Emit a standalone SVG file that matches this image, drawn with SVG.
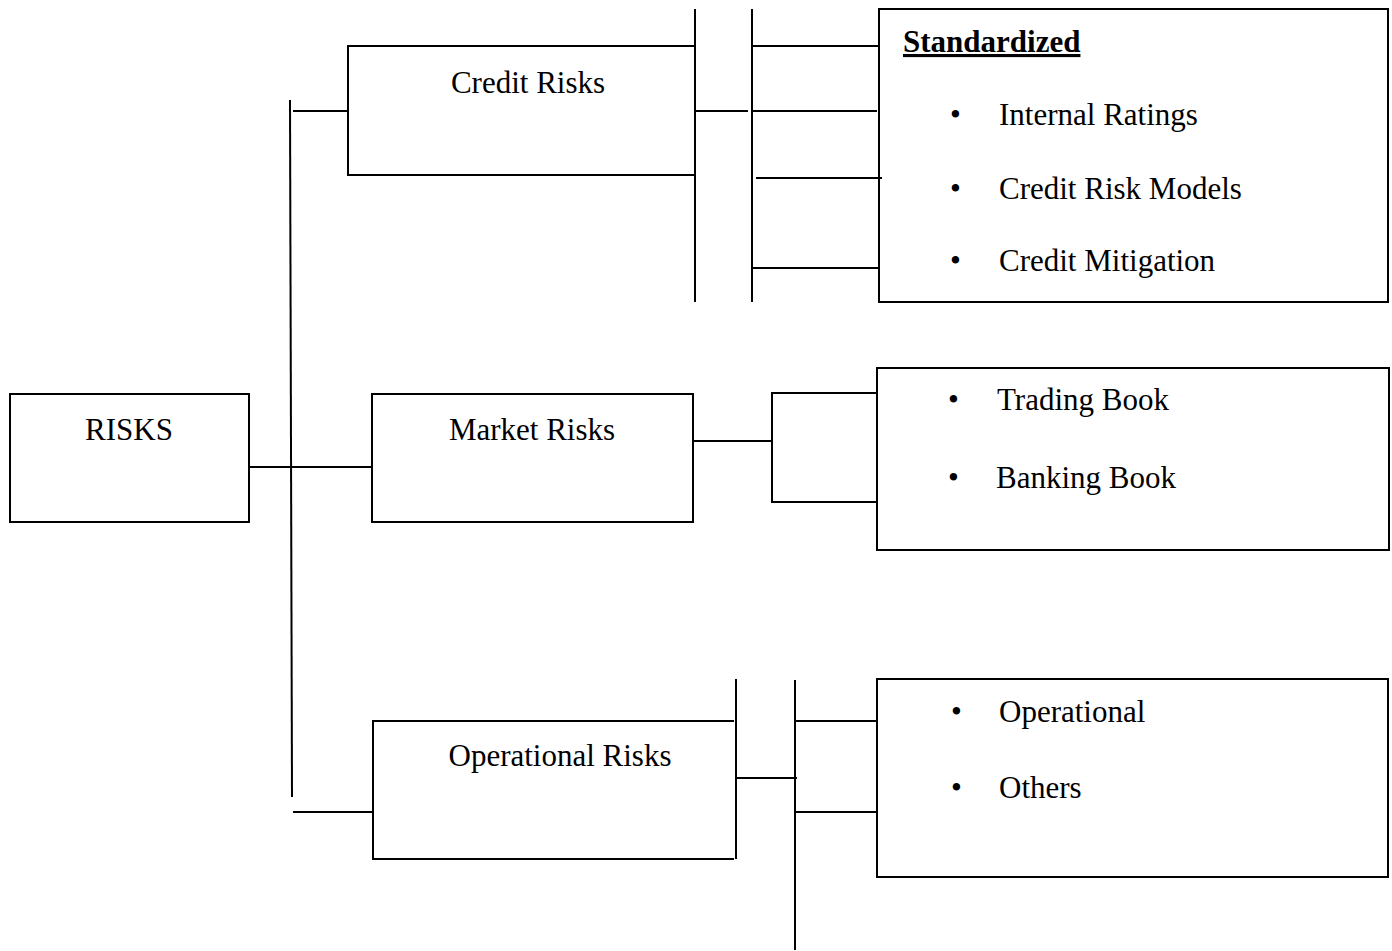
<svg xmlns="http://www.w3.org/2000/svg" width="1392" height="951" viewBox="0 0 1392 951">
<style>
.ln{stroke:#000;stroke-width:2;fill:none}
.box{stroke:#000;stroke-width:2;fill:none}
.t{font-family:"Liberation Serif","Times New Roman",serif;font-size:31px;fill:#000}
.c{text-anchor:middle}
.b{font-weight:bold;text-decoration:underline}
</style>
<rect width="1392" height="951" fill="#fff"/>
<g id="connectors">
<line class="ln" x1="290" y1="100" x2="292" y2="797"/>
<line class="ln" x1="293" y1="111" x2="348" y2="111"/>
<line class="ln" x1="249" y1="467" x2="372" y2="467"/>
<line class="ln" x1="293" y1="812" x2="373" y2="812"/>
<line class="ln" x1="695" y1="9" x2="695" y2="302"/>
<line class="ln" x1="752" y1="9" x2="752" y2="302"/>
<line class="ln" x1="695" y1="111" x2="748" y2="111"/>
<line class="ln" x1="752" y1="46" x2="879" y2="46"/>
<line class="ln" x1="752" y1="111" x2="877" y2="111"/>
<line class="ln" x1="756" y1="178" x2="882" y2="178"/>
<line class="ln" x1="752" y1="268" x2="879" y2="268"/>
<line class="ln" x1="694" y1="441" x2="772" y2="441"/>
<polyline class="ln" points="877,393 772,393 772,502 877,502"/>
<line class="ln" x1="736" y1="679" x2="736" y2="859"/>
<line class="ln" x1="736" y1="778" x2="797" y2="778"/>
<line class="ln" x1="795" y1="680" x2="795" y2="950"/>
<line class="ln" x1="795" y1="721" x2="877" y2="721"/>
<line class="ln" x1="795" y1="812" x2="877" y2="812"/>
</g>
<g id="risks">
<rect class="box" x="10" y="394" width="239" height="128"/>
<text class="t c" x="129" y="440">RISKS</text>
</g>
<g id="credit-risks">
<polyline class="box" points="694,46 348,46 348,175 694,175"/>
<text class="t c" x="528" y="93">Credit Risks</text>
</g>
<g id="market-risks">
<rect class="box" x="372" y="394" width="321" height="128"/>
<text class="t c" x="532" y="440">Market Risks</text>
</g>
<g id="operational-risks">
<polyline class="box" points="734,721 373,721 373,859 734,859"/>
<text class="t c" x="560" y="766">Operational Risks</text>
</g>
<g id="standardized">
<rect class="box" x="879" y="9" width="509" height="293"/>
<text class="t b" x="903" y="52">Standardized</text>
<text class="t" x="950" y="125">•</text>
<text class="t" x="999" y="125">Internal Ratings</text>
<text class="t" x="950" y="199">•</text>
<text class="t" x="999" y="199">Credit Risk Models</text>
<text class="t" x="950" y="271">•</text>
<text class="t" x="999" y="271">Credit Mitigation</text>
</g>
<g id="books">
<rect class="box" x="877" y="368" width="512" height="182"/>
<text class="t" x="948" y="410">•</text>
<text class="t" x="997" y="410">Trading Book</text>
<text class="t" x="948" y="488">•</text>
<text class="t" x="996" y="488">Banking Book</text>
</g>
<g id="operational">
<rect class="box" x="877" y="679" width="511" height="198"/>
<text class="t" x="951" y="722">•</text>
<text class="t" x="999" y="722">Operational</text>
<text class="t" x="951" y="798">•</text>
<text class="t" x="999" y="798">Others</text>
</g>
</svg>
